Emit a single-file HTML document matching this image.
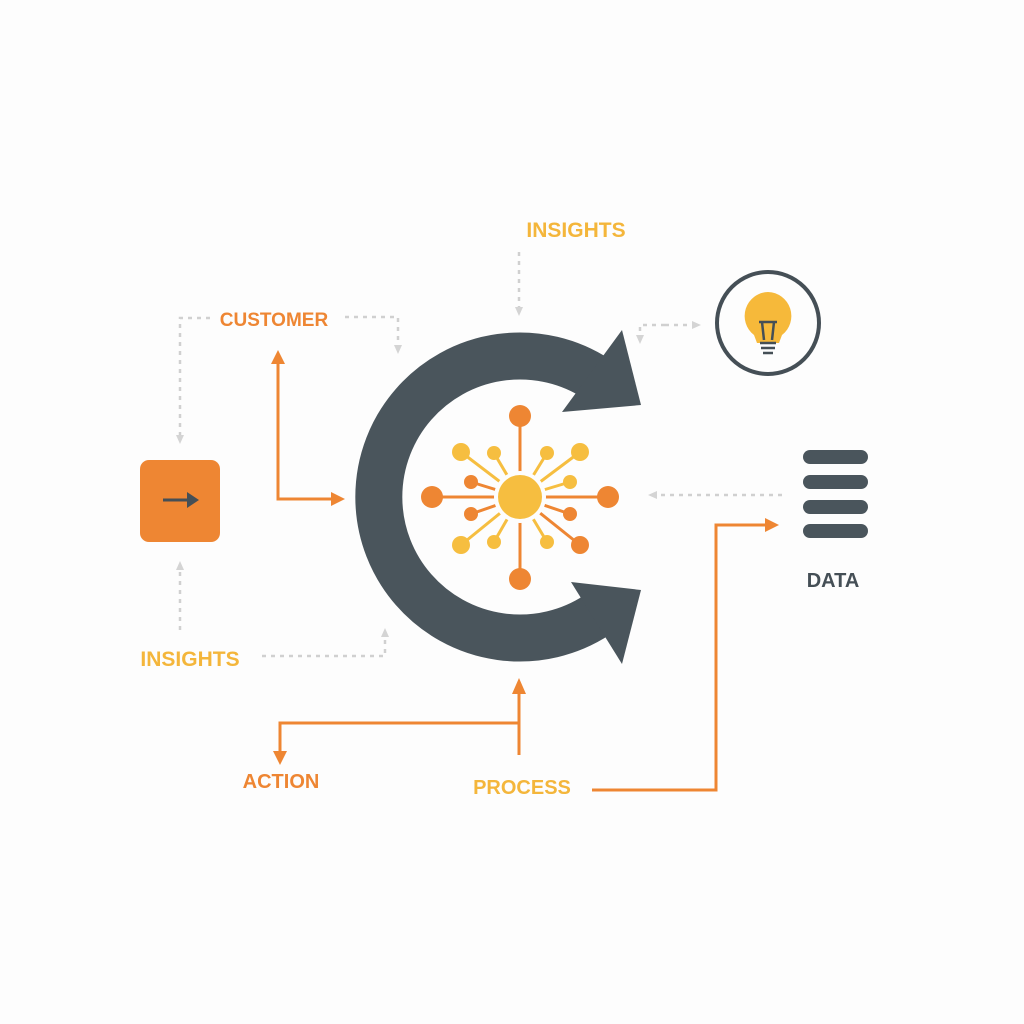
<!DOCTYPE html>
<html><head><meta charset="utf-8"><style>
html,body{margin:0;padding:0;background:#fdfdfd;width:1024px;height:1024px;overflow:hidden}
text{font-family:"Liberation Sans",sans-serif;font-weight:bold}
</style></head><body>
<svg width="1024" height="1024" viewBox="0 0 1024 1024" xmlns="http://www.w3.org/2000/svg">
<defs>
<marker id="ag" markerWidth="10" markerHeight="10" refX="5" refY="5" orient="auto" markerUnits="userSpaceOnUse"><path d="M0,1 L9,5 L0,9 z" fill="#d4d4d4"/></marker>
</defs>
<rect width="1024" height="1024" fill="#fdfdfd"/>
<g stroke="#d0d0d0" stroke-width="2.5" stroke-dasharray="4,5" fill="none">
<path d="M210,318 H180 V440" marker-end="url(#ag)"/>
<path d="M345,317 H398 V350" marker-end="url(#ag)"/>
<path d="M180,630 V565" marker-end="url(#ag)"/>
<path d="M262,656 H385 V632" marker-end="url(#ag)"/>
<path d="M519,252 V312" marker-end="url(#ag)"/>
<path d="M665,325 H640 V340" marker-end="url(#ag)"/>
<path d="M665,325 H697" marker-end="url(#ag)"/>
<path d="M782,495 H652" marker-end="url(#ag)"/>
</g>
<g stroke="#ee8633" stroke-width="3" fill="none">
<path d="M278,362 V499 H333"/>
<path d="M519,755 V694"/>
<path d="M519,723 H280 V752"/>
<path d="M592,790 H716 V525 H766"/>
</g>
<g fill="#ee8633">
<polygon points="278,350 271,364 285,364"/>
<polygon points="345,499 331,492 331,506"/>
<polygon points="519,678 512,694 526,694"/>
<polygon points="280,765 273,751 287,751"/>
<polygon points="779,525 765,518 765,532"/>
</g>
<rect x="140" y="460" width="80" height="82" rx="9" fill="#ee8633"/>
<path d="M163,500 H190" stroke="#454f56" stroke-width="3"/>
<polygon points="199,500 187,492 187,508" fill="#454f56"/>
<path d="M597,379 A141 141 0 1 0 597,615" stroke="#4a555c" stroke-width="47" fill="none"/>
<polygon points="622,330 641,405 562,412" fill="#4a555c"/>
<polygon points="571,582 641,590 622,664" fill="#4a555c"/>
<g stroke-width="3" fill="none">
<g stroke="#ee8633">
<line x1="520" y1="416" x2="520" y2="578"/>
<line x1="432" y1="497" x2="608" y2="497"/>
<line x1="471" y1="482" x2="520" y2="497"/>
<line x1="471" y1="514" x2="520" y2="497"/>
<line x1="570" y1="514" x2="520" y2="497"/>
<line x1="580" y1="545" x2="520" y2="497"/>
</g>
<g stroke="#f6be40">
<line x1="461" y1="452" x2="520" y2="497"/>
<line x1="461" y1="545" x2="520" y2="497"/>
<line x1="580" y1="452" x2="520" y2="497"/>
<line x1="494" y1="453" x2="520" y2="497"/>
<line x1="547" y1="453" x2="520" y2="497"/>
<line x1="570" y1="482" x2="520" y2="497"/>
<line x1="494" y1="542" x2="520" y2="497"/>
<line x1="547" y1="542" x2="520" y2="497"/>
</g>
</g>
<circle cx="520" cy="497" r="26" fill="#fdfdfd"/>
<circle cx="520" cy="497" r="22" fill="#f6be40"/>
<g fill="#ee8633">
<circle cx="520" cy="416" r="11"/><circle cx="520" cy="579" r="11"/>
<circle cx="432" cy="497" r="11"/><circle cx="608" cy="497" r="11"/>
<circle cx="580" cy="545" r="9"/>
<circle cx="471" cy="482" r="7"/><circle cx="471" cy="514" r="7"/><circle cx="570" cy="514" r="7"/>
</g>
<g fill="#f6be40">
<circle cx="461" cy="452" r="9"/><circle cx="461" cy="545" r="9"/><circle cx="580" cy="452" r="9"/>
<circle cx="494" cy="453" r="7"/><circle cx="547" cy="453" r="7"/><circle cx="570" cy="482" r="7"/>
<circle cx="494" cy="542" r="7"/><circle cx="547" cy="542" r="7"/>
</g>
<circle cx="768" cy="323" r="51" fill="#fdfdfd" stroke="#454f56" stroke-width="4"/>
<path d="M768,292 a24,24 0 0 1 14,43 l-3,8 h-22 l-3,-8 a24,24 0 0 1 14,-43z" fill="#f6b93a"/>
<g stroke="#454f56" stroke-width="2.5" fill="none">
<path d="M759,322 h18 M762,322 l2,18 M774,322 l-2,18"/>
<path d="M760,343 h16 M761,348 h14 M763,353 h10"/>
</g>
<g stroke="#4a555c" stroke-width="14" stroke-linecap="round">
<line x1="810" y1="457" x2="861" y2="457"/>
<line x1="810" y1="482" x2="861" y2="482"/>
<line x1="810" y1="507" x2="861" y2="507"/>
<line x1="810" y1="531" x2="861" y2="531"/>
</g>
<text x="576" y="237" font-size="21" fill="#f4b63b" text-anchor="middle">INSIGHTS</text>
<text x="274" y="326" font-size="19" fill="#ee8633" text-anchor="middle">CUSTOMER</text>
<text x="190" y="666" font-size="21" fill="#f4b63b" text-anchor="middle">INSIGHTS</text>
<text x="281" y="788" font-size="20" fill="#ee8633" text-anchor="middle">ACTION</text>
<text x="522" y="794" font-size="20" fill="#f4b63b" text-anchor="middle">PROCESS</text>
<text x="833" y="587" font-size="20" fill="#454f56" text-anchor="middle">DATA</text>
</svg>
</body></html>
